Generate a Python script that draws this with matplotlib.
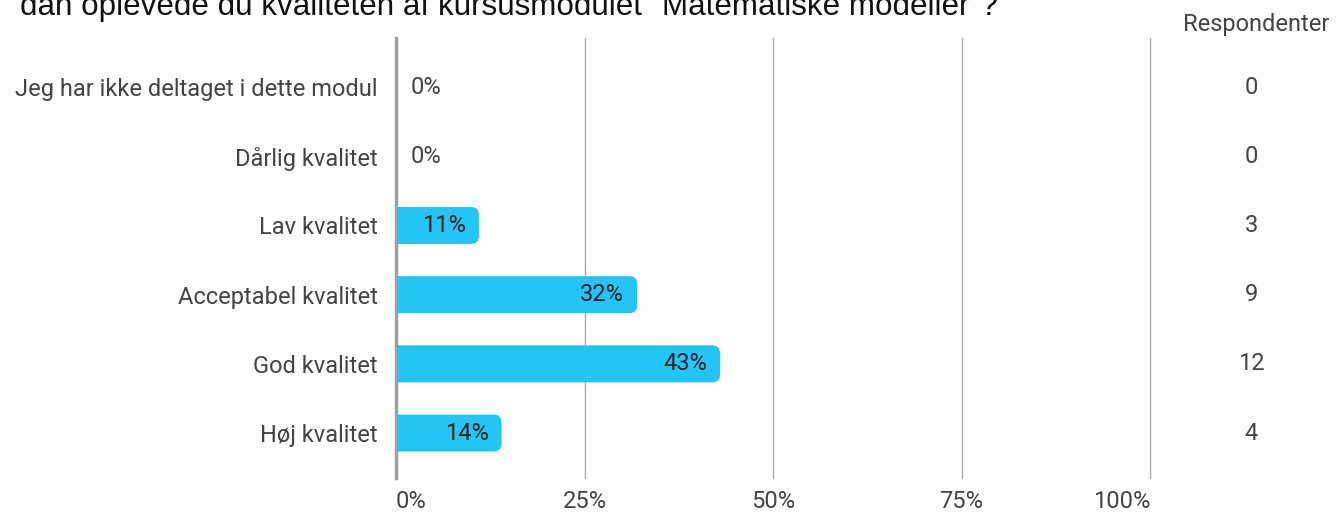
import matplotlib.pyplot as plt
import matplotlib.transforms as mtransforms
from matplotlib.patches import FancyBboxPatch

# data
categories = ['Jeg har ikke deltaget i dette modul', 'Dårlig kvalitet', 'Lav kvalitet',
              'Acceptabel kvalitet', 'God kvalitet', 'Høj kvalitet']
percents = [0, 0, 11, 32, 43, 14]
respondents = [0, 0, 3, 9, 12, 4]
xticks = [0, 25, 50, 75, 100]
xtick_labels = ['0%', '25%', '50%', '75%', '100%']
title = 'dan oplevede du kvaliteten af kursusmodulet "Matematiske modeller"?'

bar_color = '#22c5f5'
label_color = '#444444'
fs = 17

W, H = 1343, 517
fig = plt.figure(figsize=(W / 100, H / 100), dpi=100)
ax = fig.add_axes([396 / W, (H - 478) / H, (1150 - 396) / W, 440 / H])

ax.set_xlim(0, 100)
ax.set_ylim(5.65, -0.71)

# pixels per data unit, for round corners
px_x = (1150 - 396) / 100
px_y = 440 / 6.36
r_px = 8
bar_h = 37 / px_y

for i, v in enumerate(percents):
    if v > 0:
        p = FancyBboxPatch((-3, i - bar_h / 2), v + 3, bar_h,
                           boxstyle='round,pad=0,rounding_size=%f' % (r_px / px_x),
                           mutation_aspect=px_x / px_y,
                           facecolor=bar_color, edgecolor='none', zorder=2)
        ax.add_patch(p)
        ax.text(v - 13 / px_x, i, '%d%%' % v, ha='right', va='center',
                fontsize=fs, family='Roboto', color='#222222', zorder=3)
    else:
        ax.text(15 / px_x, i, '%d%%' % v, ha='left', va='center',
                fontsize=fs, family='Roboto', color=label_color, zorder=3)

# grid lines
for t in xticks[1:]:
    ax.axvline(t, color='#aaaaaa', lw=1, zorder=1, clip_on=False)
ax.axvline(0, color='#a0a0a0', lw=2.5, zorder=4, clip_on=False)

for s in ax.spines.values():
    s.set_visible(False)

ax.set_yticks(range(len(categories)))
ax.set_yticklabels(categories, fontsize=fs, family='Roboto', color=label_color)
ax.tick_params(axis='y', length=0, pad=13)

ax.set_xticks(xticks)
ax.set_xticklabels(xtick_labels, fontsize=fs, family='Roboto', color=label_color)
ax.tick_params(axis='x', length=0, pad=9)
labs = ax.get_xticklabels()
labs[0].set_ha('left')
labs[-1].set_ha('right')

# respondent column
fig.text(1256 / W, 1 - 25 / H, 'Respondenter', fontsize=fs, family='Roboto',
         color=label_color, ha='center', va='center')
col_tr = mtransforms.blended_transform_factory(fig.transFigure, ax.transData)
for i, n in enumerate(respondents):
    ax.text(1251 / W, i, str(n), transform=col_tr, fontsize=fs,
            family='Roboto', color=label_color, ha='center', va='center')

fig.text(20 / W, 1 - 15 / H, title, fontsize=22.6, family='Liberation Sans',
         color='#111111', ha='left', va='baseline')

fig.savefig('out.png', dpi=100)
